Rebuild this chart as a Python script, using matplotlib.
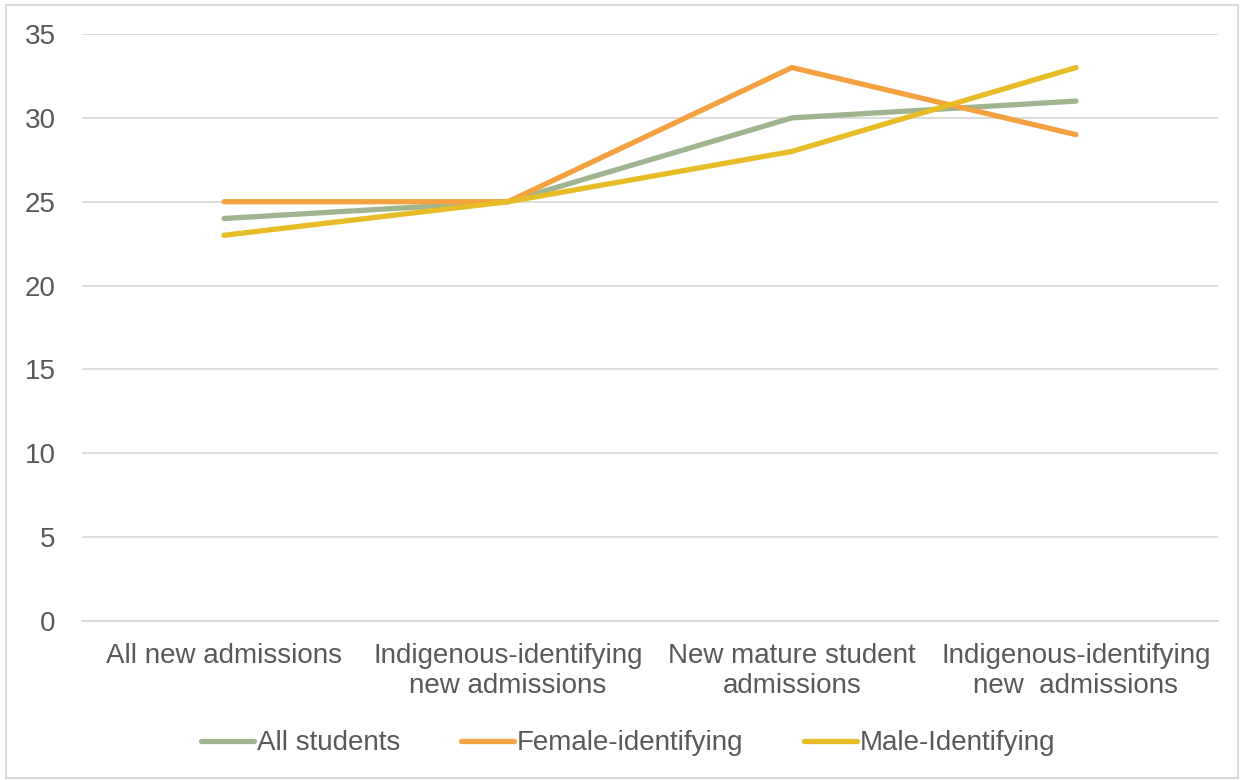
import matplotlib.pyplot as plt
from matplotlib.patches import Rectangle

plt.rcParams['font.family'] = ['Liberation Sans', 'DejaVu Sans']

categories = ['All new admissions',
              'Indigenous-identifying\nnew admissions',
              'New mature student\nadmissions',
              'Indigenous-identifying\nnew  admissions']
all_students = [24, 25, 30, 31]
female = [25, 25, 33, 29]
male = [23, 25, 28, 33]
y_ticks = [0, 5, 10, 15, 20, 25, 30, 35]

TEXT = '#595959'
GRID = '#D9D9D9'

fig = plt.figure(figsize=(12.44, 7.8), dpi=100)
ax = fig.add_axes([0.0659, 0.2038, 0.9132, 0.7526])

x = range(len(categories))
ax.plot(x, all_students, color='#9FB58F', lw=3.8, solid_capstyle='round', label='All students')
ax.plot(x, female, color='#F4A142', lw=3.8, solid_capstyle='round', label='Female-identifying')
ax.plot(x, male, color='#E6BC27', lw=3.8, solid_capstyle='round', label='Male-Identifying')

ax.set_xlim(-0.5, len(categories) - 0.5)
ax.set_ylim(0, 35)
ax.set_yticks(y_ticks)
ax.set_xticks(list(x))
ax.set_xticklabels(categories, linespacing=1.2)
ax.grid(axis='y', color=GRID, lw=1.3)
ax.set_axisbelow(True)
for s in ['top', 'right', 'left']:
    ax.spines[s].set_visible(False)
ax.spines['bottom'].set_color(GRID)
ax.spines['bottom'].set_linewidth(1.3)
ax.tick_params(length=0, labelsize=20, colors=TEXT)
ax.tick_params(axis='y', pad=19)
ax.tick_params(axis='x', pad=16)

fig.legend(loc='center', bbox_to_anchor=(0.505, 0.047), ncol=3, frameon=False,
           fontsize=20, labelcolor=TEXT, handlelength=1.9, handletextpad=0.1,
           columnspacing=2.2)

fig.patches.append(Rectangle((6 / 1244, 2 / 780), 1232 / 1244, 773 / 780,
                             transform=fig.transFigure, fill=False,
                             edgecolor=GRID, lw=1.5))

fig.savefig('out.png', dpi=100)
